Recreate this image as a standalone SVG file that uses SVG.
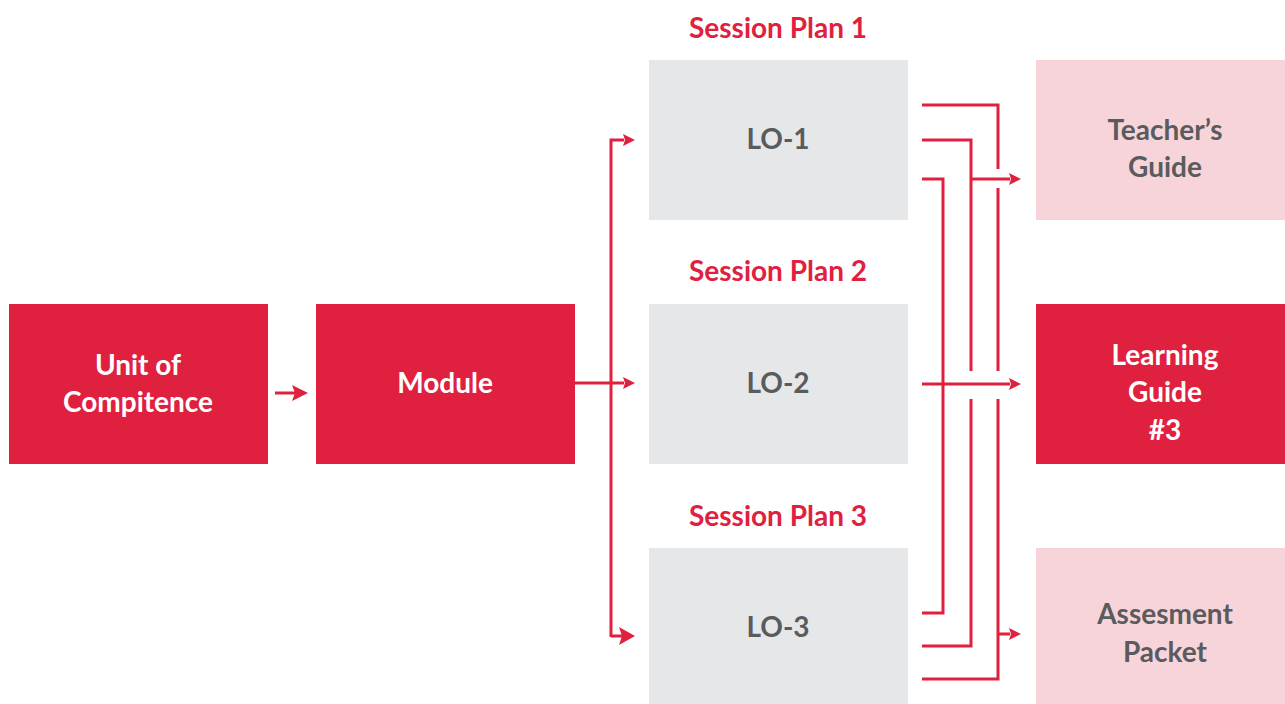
<svg xmlns="http://www.w3.org/2000/svg" width="1285" height="704" viewBox="0 0 1285 704">
<defs>
<style>
.red{fill:#DF213F}
.grey{fill:#E6E7E8}
.pink{fill:#F7D4DA}
text{font-family:Lato,"Liberation Sans",sans-serif;font-weight:700;font-size:28px;text-anchor:middle}
.w{fill:#FFFFFF}
.d{fill:#5A5B5D}
.r{fill:#DF213F}
.ln{fill:none;stroke:#DF213F;stroke-width:3}
.ah{fill:#DF213F}
</style>
</defs>
<rect width="1285" height="704" fill="#FFFFFF"/>
<g id="unit"><rect class="red" x="9" y="304" width="259" height="160"/><text class="w" x="138" y="375">Unit of</text><text class="w" x="138" y="412">Compitence</text></g>
<g id="module"><rect class="red" x="316" y="304" width="259" height="160"/><text class="w" x="445" y="393">Module</text></g>
<g id="sp1"><text class="r" x="778" y="38">Session Plan 1</text></g>
<g id="sp2"><text class="r" x="778" y="281">Session Plan 2</text></g>
<g id="sp3"><text class="r" x="778" y="526">Session Plan 3</text></g>
<g id="lo1"><rect class="grey" x="649" y="60" width="259" height="160"/><text class="d" x="778" y="149">LO-1</text></g>
<g id="lo2"><rect class="grey" x="649" y="304" width="259" height="160"/><text class="d" x="778" y="393">LO-2</text></g>
<g id="lo3"><rect class="grey" x="649" y="548" width="259" height="156"/><text class="d" x="778" y="637">LO-3</text></g>
<g id="teacher"><rect class="pink" x="1036" y="60" width="249" height="160"/><text class="d" x="1165" y="140">Teacher’s</text><text class="d" x="1165" y="177">Guide</text></g>
<g id="learning"><rect class="red" x="1036" y="304" width="249" height="160"/><text class="w" x="1165" y="365">Learning</text><text class="w" x="1165" y="402">Guide</text><text class="w" x="1165" y="440">#3</text></g>
<g id="assess"><rect class="pink" x="1036" y="548" width="249" height="156"/><text class="d" x="1165" y="624">Assesment</text><text class="d" x="1165" y="662">Packet</text></g>
<g id="connectors">
<path class="ln" d="M275 393H296"/>
<polygon class="ah" points="308,393 292,385 295,393 292,401"/>
<path class="ln" d="M575 383H624M611 637V140H624M611 636H622"/>
<polygon class="ah" points="635,140 623,134 625,140 623,146"/>
<polygon class="ah" points="635,383 623,377 625,383 623,389"/>
<polygon class="ah" points="635,636 619,627 622,636 619,645"/>
<path class="ln" d="M922 105H998V169M998 188V371M998 399V679H922"/>
<path class="ln" d="M922 140H971V371M971 399V646H922"/>
<path class="ln" d="M922 179H943V613H922"/>
<path class="ln" d="M971 179H1010M922 384H1010M998 634H1010"/>
<polygon class="ah" points="1021,179 1009,173 1011,179 1009,185"/>
<polygon class="ah" points="1021,384 1009,378 1011,384 1009,390"/>
<polygon class="ah" points="1021,634 1009,628 1011,634 1009,640"/>
</g>
</svg>
